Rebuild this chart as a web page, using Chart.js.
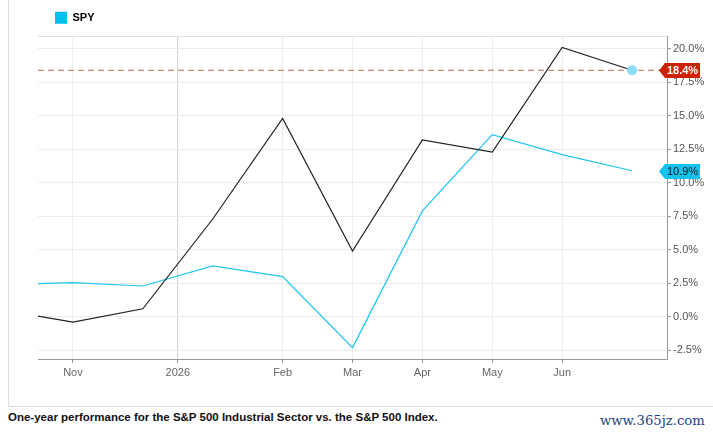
<!DOCTYPE html>
<html lang="en">
<head>
  <meta charset="UTF-8">
  <title>S&amp;P 500 Industrials vs SPY</title>
  <script src="https://cdn.jsdelivr.net/npm/chart.js"></script>
  <style>
    body { margin: 0; background: #fff; font-family: "Liberation Sans", Arial, sans-serif; }
    #box { position: absolute; left: 8px; top: 0; width: 705px; height: 406px;
           border-left: 1px solid #dcdcdc; border-bottom: 1px solid #dcdcdc; }
    #wrap { position: absolute; left: 0; top: 0; width: 713px; height: 406px; }
    #caption { position: absolute; left: 8px; top: 411px; font-size: 11.5px; font-weight: bold; color: #111; }
    #mark { position: absolute; left: 600px; top: 413px; font-family: "DejaVu Serif", serif; font-size: 13.2px; color: #1b3f86; }
  </style>
</head>
<body>
  <div id="box"></div>
  <div id="wrap"><canvas id="perfChart" width="713" height="406"></canvas></div>
  <div id="caption">One-year performance for the S&amp;P 500 Industrial Sector vs. the S&amp;P 500 Index.</div>
  <div id="mark">www.365jz.com</div>

  <script>
    // monthly points, index 1 = Nov
    const xIndex = [0, 1, 2, 3, 4, 5, 6, 7, 8, 9];
    const industrials = [0.5, -0.4, 0.6, 7.3, 14.8, 4.9, 13.2, 12.3, 20.1, 18.4];
    const spy = [2.4, 2.55, 2.3, 3.8, 3.0, -2.3, 7.9, 13.6, 12.1, 10.9];
    const tickValues = [1, 2.5, 4, 5, 6, 7, 8];
    const tickLabels = ['Nov', '2026', 'Feb', 'Mar', 'Apr', 'May', 'Jun'];
    const refLevel = 18.4;

    const toPoints = arr => arr.map((v, i) => ({ x: xIndex[i], y: v }));
    const lastIdx = xIndex.length - 1;

    // value tags on the right axis + legend nudge
    const tagPlugin = {
      id: 'tags',
      afterLayout(chart) {
        chart.legend.left += 7;
        chart.legend.top -= 3;
      },
      afterDraw(chart) {
        const ctx = chart.ctx;
        const y = chart.scales.y;
        const tags = [
          { v: industrials[lastIdx], bg: '#cc2200', fg: '#fff', bold: true },
          { v: spy[lastIdx], bg: '#12c3f0', fg: '#111', bold: false }
        ];
        tags.forEach(t => {
          const py = Math.round(y.getPixelForValue(t.v)) + 0.5;
          const x0 = chart.chartArea.right - 8, x1 = x0 + 6, x2 = x0 + 41;
          ctx.save();
          ctx.fillStyle = t.bg;
          ctx.beginPath();
          ctx.moveTo(x0, py);
          ctx.lineTo(x1, py - 7.5);
          ctx.lineTo(x2, py - 7.5);
          ctx.lineTo(x2, py + 7.5);
          ctx.lineTo(x1, py + 7.5);
          ctx.closePath();
          ctx.fill();
          ctx.fillStyle = t.fg;
          ctx.font = (t.bold ? 'bold ' : '') + '11px "Liberation Sans", Arial, sans-serif';
          ctx.textAlign = 'center';
          ctx.textBaseline = 'middle';
          ctx.fillText(t.v.toFixed(1) + '%', (x1 + x2) / 2, py + 0.5);
          ctx.restore();
        });
      }
    };

    new Chart(document.getElementById('perfChart'), {
      type: 'line',
      data: {
        datasets: [
          {
            label: 'Industrials',
            data: toPoints(industrials),
            borderColor: '#222',
            borderWidth: 1.2,
            pointRadius: ctx => ctx.dataIndex === lastIdx ? 5 : 0,
            pointBackgroundColor: '#8adcf8',
            pointBorderWidth: 0,
            tension: 0
          },
          {
            label: 'SPY',
            data: toPoints(spy),
            borderColor: '#1ec6f0',
            backgroundColor: '#00bfef',
            borderWidth: 1.2,
            pointRadius: 0,
            tension: 0
          },
          {
            label: 'ref',
            data: [{ x: 0.5, y: refLevel }, { x: 9.5, y: refLevel }],
            borderColor: '#c8685a',
            borderWidth: 1,
            borderDash: [6, 4],
            pointRadius: 0
          }
        ]
      },
      options: {
        responsive: false,
        animation: false,
        layout: { padding: { left: 38, top: 4.8, right: 0, bottom: 0 } },
        plugins: {
          tooltip: { enabled: false },
          legend: {
            position: 'top',
            align: 'start',
            labels: {
              filter: item => item.text === 'SPY',
              boxWidth: 12,
              boxHeight: 12,
              padding: 10,
              color: '#111',
              font: { family: '"Liberation Sans", Arial, sans-serif', size: 11, weight: 'bold' },
              generateLabels: chart => chart.data.datasets.map((d, i) => ({
                text: d.label, fillStyle: d.backgroundColor || d.borderColor,
                strokeStyle: d.backgroundColor || d.borderColor, lineWidth: 0, datasetIndex: i
              }))
            }
          }
        },
        scales: {
          x: {
            type: 'linear',
            min: 0.5,
            max: 9.5,
            afterBuildTicks: s => { s.ticks = tickValues.map(v => ({ value: v })); },
            afterFit: s => { s.height = 47; },
            ticks: {
              autoSkip: false,
              maxRotation: 0,
              padding: 3,
              color: '#666',
              font: { family: '"Liberation Sans", Arial, sans-serif', size: 11 },
              callback: v => tickLabels[tickValues.indexOf(v)]
            },
            grid: {
              color: c => (c.tick && c.tick.value === 2.5) ? '#d2d2d2' : '#ececec',
              tickColor: '#999',
              tickLength: 4
            },
            border: { color: '#999' }
          },
          xTop: {
            type: 'linear',
            position: 'top',
            min: 0.5,
            max: 9.5,
            afterFit: s => { s.height = 0; },
            ticks: { display: false },
            grid: { display: false },
            border: { color: '#e2e2e2' }
          },
          y: {
            position: 'right',
            min: -3.15,
            max: 20.9,
            afterFit: s => { s.width = 46; },
            ticks: {
              stepSize: 2.5,
              includeBounds: false,
              padding: 2,
              color: '#555',
              font: { family: '"Liberation Sans", Arial, sans-serif', size: 11 },
              callback: v => v.toFixed(1) + '%'
            },
            grid: { color: '#ececec', tickColor: '#999', tickLength: 4 },
            border: { color: '#999' }
          }
        }
      },
      plugins: [tagPlugin]
    });
  </script>
</body>
</html>
